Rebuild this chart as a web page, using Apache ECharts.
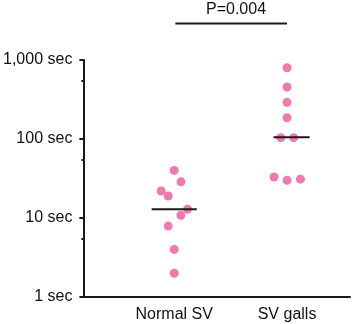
<!DOCTYPE html>
<html>
<head>
<meta charset="utf-8">
<script src="https://cdn.jsdelivr.net/npm/echarts@6/dist/echarts.min.js"></script>
<style>
html, body { margin: 0; padding: 0; background: #fff; }
#chart { width: 358px; height: 324px; }
</style>
</head>
<body>
<div id="chart"></div>
<script>
// groups sit at x = 1 and x = 2, dots are jittered around them
var groupNames = ['Normal SV', 'SV galls'];
var groupPos = [1, 2];

var normalX = [1.0, 1.06, 0.885, 0.947, 1.118, 1.059, 0.947, 1.0, 1.0];
var normalY = [40, 28.7, 22, 19, 12.9, 10.8, 7.9, 4, 2];
var gallsX = [2.0, 2.0, 2.0, 2.0, 1.944, 2.059, 1.885, 2.0, 2.119];
var gallsY = [798, 455, 291, 186, 104, 104, 33, 30, 31];

var medians = [12.9, 105];
var medianSpan = [[0.8, 1.2], [1.88, 2.2]];

var yMajor = [1, 10, 100, 1000];
var yMinor = [5.5, 55, 550];
var pText = 'P=0.004';
var bracketY = 2900;

var FONT = 'Liberation Sans, Arial, sans-serif';

function pairs(xs, ys) {
    var out = [];
    for (var i = 0; i < xs.length; i++) {
        out.push([xs[i], ys[i]]);
    }
    return out;
}

var chart = echarts.init(document.getElementById('chart'), null, { renderer: 'canvas' });

var series = [];
series.push({
    type: 'scatter',
    data: pairs(normalX, normalY).concat(pairs(gallsX, gallsY)),
    symbolSize: 9,
    itemStyle: { color: '#f07ab0', opacity: 1 },
    z: 3
});
for (var i = 0; i < medians.length; i++) {
    series.push({
        type: 'line',
        data: [[medianSpan[i][0], medians[i]], [medianSpan[i][1], medians[i]]],
        symbol: 'none',
        lineStyle: { color: '#1a1a1a', width: 2 },
        z: 4
    });
}
// significance bracket above the plot
series.push({
    type: 'line',
    data: [[groupPos[0] + 0.01, bracketY], [groupPos[1], bracketY]],
    symbol: 'none',
    clip: false,
    lineStyle: { color: '#1a1a1a', width: 2 }
});

var option = {
    animation: false,
    title: {
        text: pText,
        left: 231,
        top: -3,
        textAlign: 'center',
        textStyle: { fontFamily: FONT, fontSize: 16, fontWeight: 'normal', color: '#111' }
    },
    grid: { left: 83, right: 8, top: 60, bottom: 27 },
    xAxis: {
        type: 'value',
        min: 0.195,
        max: 2.558,
        axisLine: { lineStyle: { color: '#1a1a1a', width: 2 } },
        axisTick: { show: false },
        splitLine: { show: false },
        axisLabel: {
            customValues: groupPos,
            margin: 10,
            fontFamily: FONT,
            fontSize: 16,
            color: '#111',
            formatter: function(v) {
                var idx = groupPos.indexOf(v);
                return idx >= 0 ? groupNames[idx] : '';
            }
        }
    },
    yAxis: [{
        type: 'log',
        logBase: 10,
        min: 1,
        max: 1000,
        axisLine: { show: true, lineStyle: { color: '#1a1a1a', width: 2 } },
        axisTick: { show: true, customValues: yMajor, length: 4, lineStyle: { color: '#1a1a1a', width: 2 } },
        splitLine: { show: false },
        axisLabel: {
            customValues: yMajor,
            margin: 11,
            fontFamily: FONT,
            fontSize: 16,
            color: '#111',
            formatter: function(v) {
                return Math.round(v).toLocaleString('en-US') + ' sec';
            }
        }
    }, {
        type: 'log',
        logBase: 10,
        min: 1,
        max: 1000,
        position: 'left',
        axisLine: { show: false },
        axisTick: { show: true, customValues: yMinor, length: 2, lineStyle: { color: '#1a1a1a', width: 2 } },
        axisLabel: { show: false },
        splitLine: { show: false }
    }],
    series: series
};
chart.setOption(option);
</script>
</body>
</html>
